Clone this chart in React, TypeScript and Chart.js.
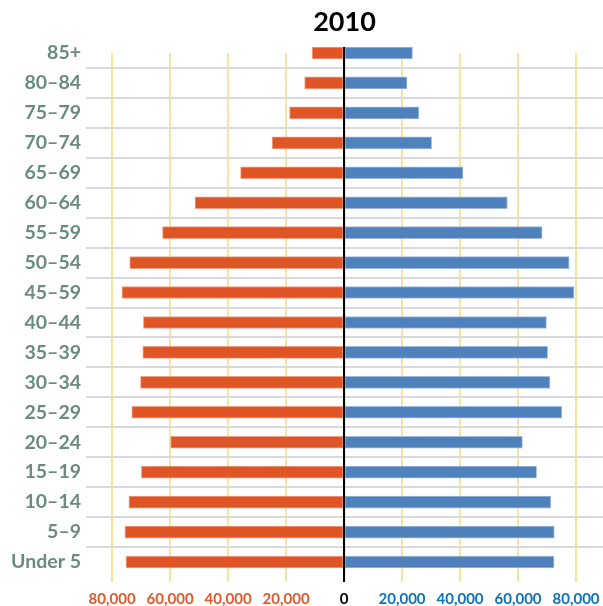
import React, { useEffect, useRef } from "react";
import { Chart, registerables } from "chart.js";

Chart.register(...registerables);

const ageGroups = [
  "85+", "80–84", "75–79", "70–74", "65–69", "60–64", "55–59", "50–54", "45–59",
  "40–44", "35–39", "30–34", "25–29", "20–24", "15–19", "10–14", "5–9", "Under 5",
];
const maleValues = [
  11000, 13600, 18800, 24800, 35700, 51400, 62600, 73900, 76600,
  69200, 69400, 70200, 73200, 59800, 69900, 74200, 75600, 75200,
];
const femaleValues = [
  23600, 21700, 25800, 30200, 41000, 56300, 68300, 77600, 79300,
  69800, 70200, 71000, 75100, 61500, 66400, 71300, 72500, 72400,
];
const tickValues = [-80000, -60000, -40000, -20000, 0, 20000, 40000, 60000, 80000];
const titleText = "2010";

const ORANGE = "#E05526";
const BLUE = "#4F81BD";

export default function App() {
  const ref = useRef<HTMLCanvasElement>(null);
  useEffect(() => {
    if (!ref.current) return;
    const titlePlugin = {
      id: "customTitle",
      afterDraw(chart: any) {
        const { ctx, chartArea } = chart;
        ctx.save();
        ctx.font = "bold 27px Lato";
        ctx.fillStyle = "#000";
        ctx.textAlign = "center";
        ctx.textBaseline = "middle";
        ctx.fillText(titleText, (chartArea.left + chartArea.right) / 2, 22);
        ctx.restore();
      },
    };
    const zeroLine = {
      id: "zeroLine",
      afterDatasetsDraw(chart: any) {
        const { ctx, chartArea, scales } = chart;
        const x = scales.x.getPixelForValue(0);
        ctx.save();
        ctx.strokeStyle = "#000";
        ctx.lineWidth = 2;
        ctx.beginPath();
        ctx.moveTo(x, chartArea.top - 6);
        ctx.lineTo(x, chartArea.bottom + 20);
        ctx.stroke();
        ctx.restore();
      },
    };
    const chart = new Chart(ref.current, {
      type: "bar",
      data: {
        labels: ageGroups,
        datasets: [
          {
            label: "Male",
            data: maleValues.map((v) => -v),
            backgroundColor: ORANGE,
            borderColor: "rgba(240,150,120,0.9)",
            borderWidth: 1,
            borderSkipped: false,
            barThickness: 12,
            clip: false as any,
          },
          {
            label: "Female",
            data: femaleValues,
            backgroundColor: BLUE,
            borderColor: "rgba(150,180,220,0.9)",
            borderWidth: 1,
            borderSkipped: false,
            barThickness: 12,
            clip: false as any,
          },
        ],
      },
      options: {
        indexAxis: "y",
        responsive: false,
        animation: false,
        layout: { padding: { top: 53, right: 0, bottom: 0, left: 0 } },
        plugins: {
          legend: { display: false },
          title: { display: false },
          tooltip: { enabled: false },
        },
        scales: {
          x: {
            type: "linear",
            stacked: true,
            min: -89000,
            max: 89300,
            afterBuildTicks: (scale: any) => {
              scale.ticks = tickValues.map((v) => ({ value: v }));
            },
            afterFit: (scale: any) => {
              scale.height = 44;
              scale.paddingLeft = 0;
              scale.paddingRight = 0;
            },
            border: { display: false },
            grid: {
              color: (c: any) => (c.tick && c.tick.value === 0 ? "#000" : "#F9E39F"),
              lineWidth: 2,
              tickLength: 20,
            },
            ticks: {
              padding: 8,
              autoSkip: false,
              maxRotation: 0,
              font: { family: "Lato", weight: "bold", size: 15 },
              color: (c: any) =>
                c.tick.value < 0 ? "#E2582A" : c.tick.value > 0 ? "#0A72BE" : "#000",
              callback: (v: any) => Math.abs(Number(v)).toLocaleString("en-US"),
            },
          },
          y: {
            type: "category",
            stacked: true,
            offset: false,
            afterFit: (scale: any) => {
              scale.width = 86;
              scale.paddingTop = 0;
              scale.paddingBottom = 0;
            },
            border: { display: false },
            grid: {
              color: "#DADADA",
              lineWidth: 2,
              drawTicks: false,
            },
            ticks: {
              padding: 5,
              autoSkip: false,
              font: { family: "Lato", weight: "bold", size: 19.5 },
              color: "#6A8C7E",
            },
          },
        },
      },
      plugins: [titlePlugin, zeroLine],
    } as any);
    return () => chart.destroy();
  }, []);
  return (
    <div style={{ position: "absolute", left: 0, top: 0, width: 603, height: 606 }}>
      <canvas ref={ref} width={603} height={606} />
    </div>
  );
}
